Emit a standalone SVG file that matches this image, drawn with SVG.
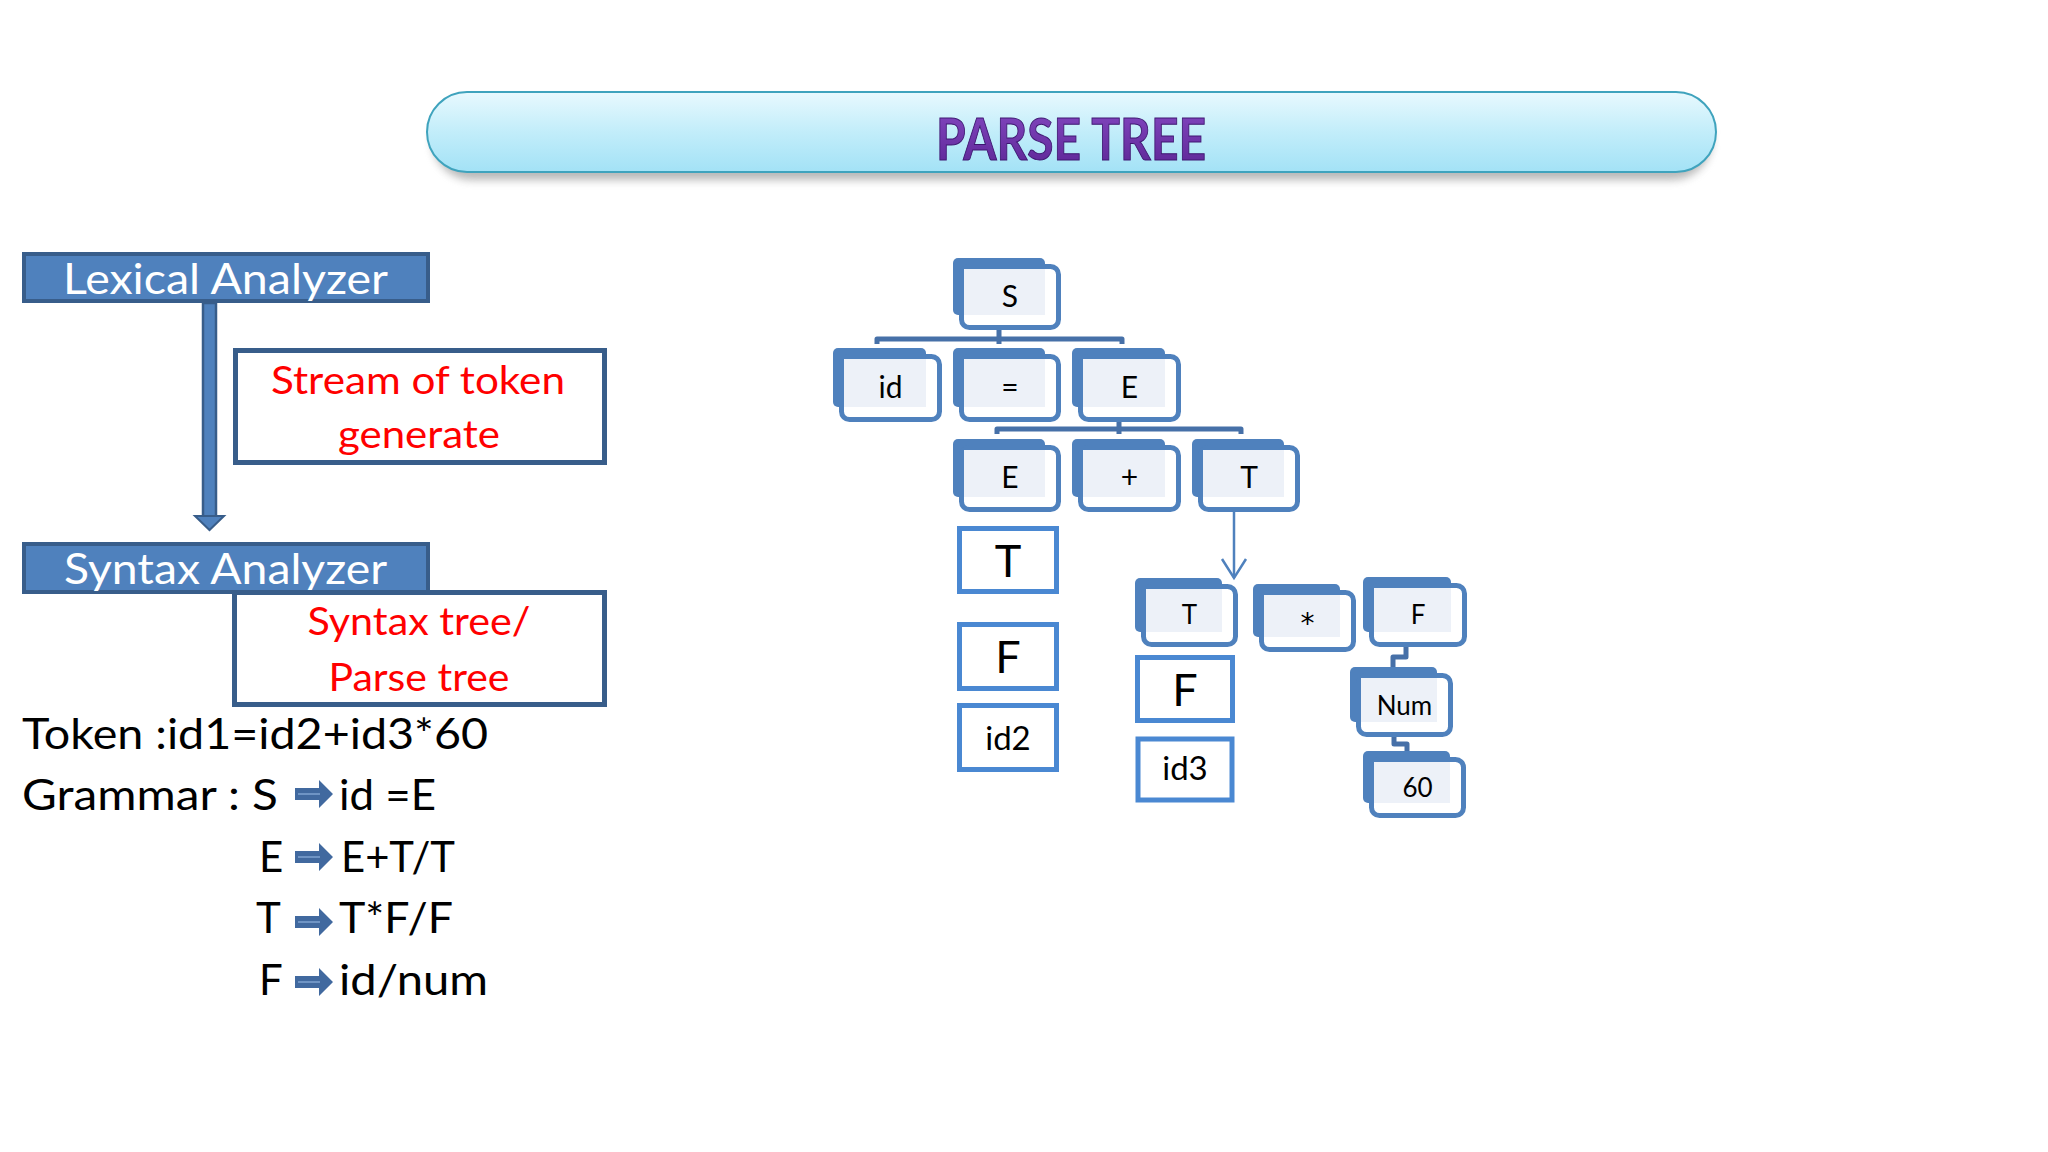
<svg xmlns="http://www.w3.org/2000/svg" width="2048" height="1152" viewBox="0 0 2048 1152">
  <style>
    .lbl { font-family: "Lato", "Open Sans", "Liberation Sans", sans-serif; }
    .wt { fill: #ffffff; font-size: 43px; }
    .red { fill: #ff0000; font-size: 38px; text-anchor: middle; }
    .blk { fill: #000000; font-size: 42px; }
    .nt { fill: #000000; font-size: 30px; text-anchor: middle; }
    .nts { fill: #000000; font-size: 26px; text-anchor: middle; }
    .big { fill: #000000; font-size: 45px; text-anchor: middle; }
    .mid { fill: #000000; font-size: 33px; text-anchor: middle; }
    .back { fill: #4f81bd; }
    .front { fill: #ffffff; stroke: #4f81bd; stroke-width: 5; }
    .inner { fill: #edf1f8; }
    .plain { fill: #ffffff; stroke: #4a88d2; stroke-width: 5; }
    .conn { fill: none; stroke: #4670a8; stroke-width: 5; stroke-linejoin: round; }
    .garrow { fill: #41699f; }
  </style>
  <defs>
    <linearGradient id="titleGrad" x1="0" y1="0" x2="0" y2="1">
      <stop offset="0" stop-color="#e8f9fe"/>
      <stop offset="0.5" stop-color="#c2edfa"/>
      <stop offset="1" stop-color="#a3e2f6"/>
    </linearGradient>
    <linearGradient id="purpleGrad" x1="0" y1="0" x2="0" y2="1">
      <stop offset="0" stop-color="#8548c2"/>
      <stop offset="1" stop-color="#5b2594"/>
    </linearGradient>
    <filter id="blur" x="-5%" y="-50%" width="110%" height="200%">
      <feGaussianBlur stdDeviation="4"/>
    </filter>
  </defs>

  <rect x="0" y="0" width="2048" height="1152" fill="#ffffff"/>

  <!-- Title -->
  <g id="title">
    <rect x="432" y="100" width="1280" height="80" rx="40" fill="#7f7f7f" opacity="0.55" filter="url(#blur)"/>
    <rect x="427" y="92" width="1289" height="80" rx="40" fill="url(#titleGrad)" stroke="#3fa3bd" stroke-width="2"/>
    <text class="lbl" x="1071" y="160" text-anchor="middle" font-size="57" font-weight="bold" textLength="270" lengthAdjust="spacingAndGlyphs" fill="url(#purpleGrad)" stroke="#3d1670" stroke-width="1">PARSE TREE</text>
  </g>

  <!-- Left pipeline -->
  <g id="lexical">
    <rect x="24" y="254" width="404" height="47" fill="#4f81bd" stroke="#385d8a" stroke-width="4"/>
    <text class="lbl wt" x="63" y="294" textLength="325" lengthAdjust="spacingAndGlyphs">Lexical Analyzer</text>
  </g>
  <g id="pipeline-arrow">
    <rect x="203" y="303" width="13" height="214" fill="#4f81bd" stroke="#385d8a" stroke-width="2.5"/>
    <polygon points="195,516 224,516 209.5,530" fill="#4f81bd" stroke="#385d8a" stroke-width="2"/>
  </g>
  <g id="stream">
    <rect x="235.5" y="350.5" width="369" height="112" fill="#ffffff" stroke="#385d8a" stroke-width="5"/>
    <text class="lbl red" x="418" y="394" textLength="294" lengthAdjust="spacingAndGlyphs">Stream of token</text>
    <text class="lbl red" x="419" y="448" textLength="162" lengthAdjust="spacingAndGlyphs">generate</text>
  </g>
  <g id="syntax">
    <rect x="24" y="544" width="404" height="48" fill="#4f81bd" stroke="#385d8a" stroke-width="4"/>
    <text class="lbl wt" x="64" y="584" textLength="323" lengthAdjust="spacingAndGlyphs">Syntax Analyzer</text>
  </g>
  <g id="syntax-tree">
    <rect x="234.5" y="592.5" width="370" height="112" fill="#ffffff" stroke="#385d8a" stroke-width="5"/>
    <text class="lbl red" x="419" y="635" textLength="223" lengthAdjust="spacingAndGlyphs">Syntax tree/</text>
    <text class="lbl red" x="419" y="691" textLength="181" lengthAdjust="spacingAndGlyphs">Parse tree</text>
  </g>

  <!-- Token & grammar -->
  <g id="grammar">
    <text class="lbl blk" x="22" y="749" textLength="466" lengthAdjust="spacingAndGlyphs">Token :id1=id2+id3*60</text>
    <text class="lbl blk" x="22" y="810" textLength="256" lengthAdjust="spacingAndGlyphs">Grammar : S</text>
    <text class="lbl blk" x="339" y="810" textLength="97" lengthAdjust="spacingAndGlyphs">id =E</text>
    <text class="lbl blk" x="259" y="872">E</text>
    <text class="lbl blk" x="341" y="872" textLength="114" lengthAdjust="spacingAndGlyphs">E+T/T</text>
    <text class="lbl blk" x="256" y="933">T</text>
    <text class="lbl blk" x="339" y="933" textLength="114" lengthAdjust="spacingAndGlyphs">T*F/F</text>
    <text class="lbl blk" x="259" y="995">F</text>
    <text class="lbl blk" x="339" y="995" textLength="149" lengthAdjust="spacingAndGlyphs">id/num</text>
    <g class="garrow">
      <polygon points="295,788 319,788 319,780 333,794 319,808 319,800 295,800"/>
      <polygon points="295,851 319,851 319,843 333,857 319,871 319,863 295,863"/>
      <polygon points="295,916 319,916 319,908 333,922 319,936 319,928 295,928"/>
      <polygon points="295,976 319,976 319,968 333,982 319,996 319,988 295,988"/>
    </g>
    <g stroke="#7fa3d1" stroke-width="1.5">
      <line x1="298" y1="794" x2="320" y2="794"/>
      <line x1="298" y1="857" x2="320" y2="857"/>
      <line x1="298" y1="922" x2="320" y2="922"/>
      <line x1="298" y1="982" x2="320" y2="982"/>
    </g>
  </g>

  <!-- Connectors -->
  <g id="connectors">
    <path class="conn" d="M877,344 V339 H1122 V344 M999,330 V344"/>
    <path class="conn" d="M997,434 V429 H1241 V434 M1119,422 V434"/>
    <line x1="1234" y1="512" x2="1234" y2="578" stroke="#4f81bd" stroke-width="2.5"/>
    <polyline points="1222,559 1234,578 1246,559" fill="none" stroke="#4f81bd" stroke-width="2.5"/>
    <path class="conn" d="M1406,646 V657 H1393 V668"/>
    <path class="conn" d="M1394,736 V744 H1407 V752"/>
  </g>

  <!-- Tree nodes -->
  <g id="node-S">
    <rect class="back" x="953" y="258" width="92" height="57" rx="5"/>
    <rect class="front" x="961.5" y="266.5" width="97" height="61" rx="8"/>
    <rect class="inner" x="964" y="269" width="81" height="46"/>
    <text class="lbl nt" x="1010" y="307">S</text>
  </g>
  <g id="node-id">
    <rect class="back" x="833" y="348" width="93" height="59" rx="5"/>
    <rect class="front" x="841.5" y="356.5" width="98" height="63" rx="8"/>
    <rect class="inner" x="844" y="359" width="82" height="48"/>
    <text class="lbl nt" x="890.5" y="398">id</text>
  </g>
  <g id="node-eq">
    <rect class="back" x="953" y="348" width="92" height="59" rx="5"/>
    <rect class="front" x="961.5" y="356.5" width="97" height="63" rx="8"/>
    <rect class="inner" x="964" y="359" width="81" height="48"/>
    <text class="lbl nt" x="1010" y="398" font-size="32">=</text>
  </g>
  <g id="node-E1">
    <rect class="back" x="1072" y="348" width="93" height="59" rx="5"/>
    <rect class="front" x="1080.5" y="356.5" width="98" height="63" rx="8"/>
    <rect class="inner" x="1083" y="359" width="82" height="48"/>
    <text class="lbl nt" x="1129.5" y="398">E</text>
  </g>
  <g id="node-E2">
    <rect class="back" x="953" y="439" width="92" height="58" rx="5"/>
    <rect class="front" x="961.5" y="447.5" width="97" height="62" rx="8"/>
    <rect class="inner" x="964" y="450" width="81" height="47"/>
    <text class="lbl nt" x="1010" y="488">E</text>
  </g>
  <g id="node-plus">
    <rect class="back" x="1072" y="439" width="93" height="58" rx="5"/>
    <rect class="front" x="1080.5" y="447.5" width="98" height="62" rx="8"/>
    <rect class="inner" x="1083" y="450" width="82" height="47"/>
    <text class="lbl nt" x="1129.5" y="488" font-size="32">+</text>
  </g>
  <g id="node-T1">
    <rect class="back" x="1192" y="439" width="92" height="58" rx="5"/>
    <rect class="front" x="1200.5" y="447.5" width="97" height="62" rx="8"/>
    <rect class="inner" x="1203" y="450" width="81" height="47"/>
    <text class="lbl nt" x="1249" y="488">T</text>
  </g>
  <g id="node-T2">
    <rect class="back" x="1135" y="578" width="87" height="54" rx="5"/>
    <rect class="front" x="1143.5" y="586.5" width="92" height="58" rx="8"/>
    <rect class="inner" x="1146" y="589" width="76" height="43"/>
    <text class="lbl nts" x="1189.5" y="624">T</text>
  </g>
  <g id="node-star">
    <rect class="back" x="1253" y="584" width="87" height="53" rx="5"/>
    <rect class="front" x="1261.5" y="592.5" width="92" height="57" rx="8"/>
    <rect class="inner" x="1264" y="595" width="76" height="42"/>
    <text x="1307.5" y="633" font-family="'DejaVu Sans', 'Liberation Sans', sans-serif" font-size="28" text-anchor="middle" fill="#000000">*</text>
  </g>
  <g id="node-F2">
    <rect class="back" x="1363" y="577" width="88" height="55" rx="5"/>
    <rect class="front" x="1371.5" y="585.5" width="93" height="59" rx="8"/>
    <rect class="inner" x="1374" y="588" width="77" height="44"/>
    <text class="lbl nts" x="1418" y="624">F</text>
  </g>
  <g id="node-Num">
    <rect class="back" x="1350" y="667" width="87" height="55" rx="5"/>
    <rect class="front" x="1358.5" y="675.5" width="92" height="59" rx="8"/>
    <rect class="inner" x="1361" y="678" width="76" height="44"/>
    <text class="lbl nts" x="1404.5" y="715" font-size="28">Num</text>
  </g>
  <g id="node-60">
    <rect class="back" x="1363" y="751" width="87" height="52" rx="5"/>
    <rect class="front" x="1371.5" y="759.5" width="92" height="56" rx="8"/>
    <rect class="inner" x="1374" y="762" width="76" height="41"/>
    <text class="lbl nts" x="1417.5" y="797" font-size="28">60</text>
  </g>

  <!-- Plain boxes -->
  <g id="box-T">
    <rect class="plain" x="959.5" y="528.5" width="97" height="63"/>
    <text class="lbl big" x="1008" y="577">T</text>
  </g>
  <g id="box-F1">
    <rect class="plain" x="959.5" y="624.5" width="97" height="64"/>
    <text class="lbl big" x="1008" y="673">F</text>
  </g>
  <g id="box-id2">
    <rect class="plain" x="959.5" y="705.5" width="97" height="64"/>
    <text class="lbl mid" x="1008" y="750">id2</text>
  </g>
  <g id="box-F2">
    <rect class="plain" x="1137.5" y="657.5" width="95" height="63" stroke="#5390d8"/>
    <text class="lbl big" x="1185" y="706">F</text>
  </g>
  <g id="box-id3">
    <rect class="plain" x="1138" y="739" width="94" height="61" stroke="#345888" stroke-width="6"/>
    <text class="lbl mid" x="1185" y="780">id3</text>
  </g>
</svg>
